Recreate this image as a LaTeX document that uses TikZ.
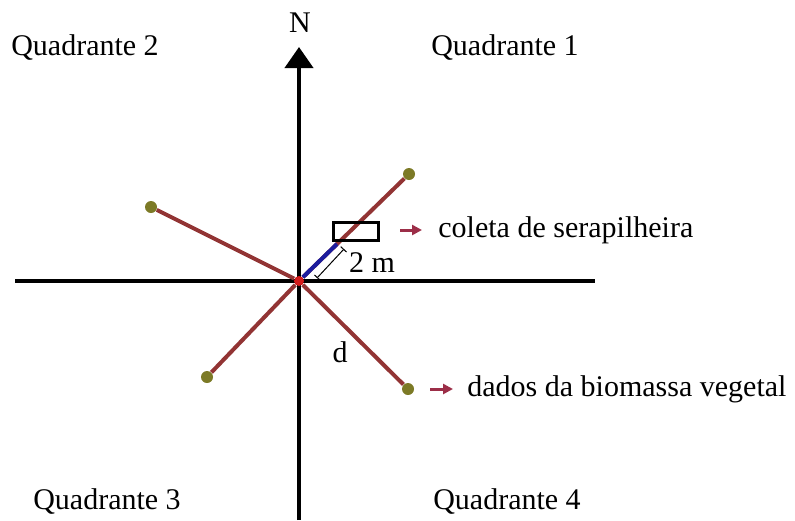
\documentclass[tikz,border=0pt]{standalone}
\usepackage{fontspec}
\setmainfont{Liberation Serif}
\usepackage{tikz}
\usetikzlibrary{positioning,arrows.meta,calc}
\usepackage{xcolor}
\definecolor{transectred}{HTML}{923434}
\definecolor{pointolive}{HTML}{7C7A26}
\definecolor{centrered}{HTML}{D41A1A}
\definecolor{stepblue}{HTML}{1C1C9E}
\definecolor{arrowred}{HTML}{9C2E48}

\begin{document}
\begin{tikzpicture}[
    x=0.5pt, y=-0.5pt,
    axis/.style={line width=2pt, color=black},
    transect/.style={line width=2pt, color=transectred},
    pt/.style={circle, fill=#1, inner sep=0pt, minimum size=6pt},
    lbl/.style={font=\fontsize{15}{18}\selectfont, inner sep=0pt},
    pointer/.style={-{Triangle[length=5pt,width=5pt]}, line width=1.5pt, color=arrowred},
]
\useasboundingbox (0,0) rectangle (795,520);

\coordinate (west) at (15,281);
\coordinate (east) at (595,281);
\coordinate (south) at (299,520);
\coordinate (north) at (299,47);
\draw[axis] (west) -- (east);
\draw[axis, -{Triangle[length=10.5pt,width=14pt]}] (south) -- (north);
\node[lbl] (nlabel) at (300,23) {N};

\node[pt=centrered, minimum size=5pt] (o) at (299,281) {};
\node[pt=pointolive] (ne) at (409,174) {};
\node[pt=pointolive] (nw) at (151,207) {};
\node[pt=pointolive] (sw) at (207,377) {};
\node[pt=pointolive] (se) at (408,389) {};

\draw[transect] (o) -- (ne);
\draw[transect] (o) -- (nw);
\draw[transect] (o) -- (sw);
\draw[transect] (o) -- (se);

\coordinate (stepend) at (337,244);
\draw[line width=2pt, color=stepblue] (o) -- (stepend);
\node[draw, line width=1.5pt, minimum width=22.5pt, minimum height=9pt, inner sep=0pt] (plot) at (355.5,231) {};

\coordinate (dimlow) at (317,278);
\coordinate (dimhigh) at (344,249);
\draw[{Bar[width=4pt]}-{Bar[width=4pt]}, line width=0.5pt] (dimlow) -- (dimhigh);
\node[lbl] (dist) at (372,263) {2 m};
\node[lbl] (dlabel) at (340,352) {d};

\node[lbl, anchor=west] (coleta) at (438,230) {coleta de serapilheira};
\coordinate (c1) at (400,230);
\draw[pointer, shorten >=8pt] (c1) -- (coleta.west);

\node[lbl, anchor=west] (dados) at (467,389) {dados da biomassa vegetal};
\coordinate (c2) at (430,389);
\draw[pointer, shorten >=7pt] (c2) -- (dados.west);

\node[lbl] (q2) at (85,48) {Quadrante 2};
\node[lbl] (q1) at (505,48) {Quadrante 1};
\node[lbl] (q3) at (107,502) {Quadrante 3};
\node[lbl] (q4) at (507,502) {Quadrante 4};

\end{tikzpicture}
\end{document}
